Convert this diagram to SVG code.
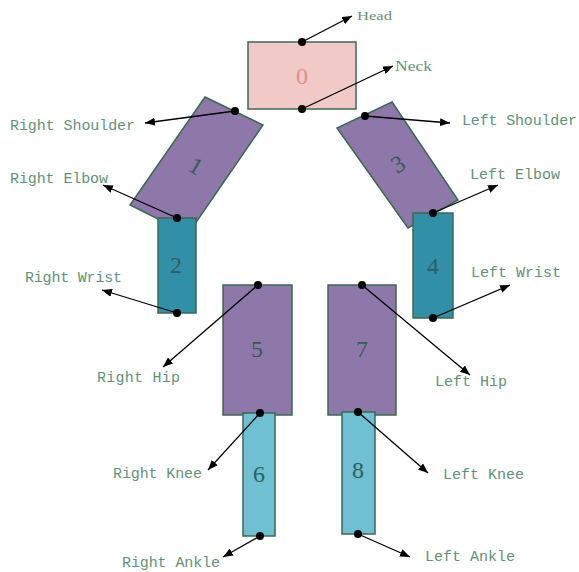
<svg xmlns="http://www.w3.org/2000/svg" width="579" height="572" viewBox="0 0 579 572">
<defs>
<marker id="ah" viewBox="0 0 10 8" refX="10" refY="4" markerWidth="10" markerHeight="8" markerUnits="userSpaceOnUse" orient="auto">
<path d="M0,0 L10,4 L0,8 Z" fill="#000"/>
</marker>
<style>
.seg{stroke:#3a6a4e;stroke-width:1.5}
.pink{fill:#f1c9c7}
.purple{fill:#8e77a9}
.teal{fill:#3190a8}
.cyan{fill:#6fc0d3}
.num{font-family:"Liberation Serif",serif;font-size:24px;fill:#2f5e5a;text-anchor:middle}
.lbl{font-family:"Liberation Mono",monospace;font-size:15px;fill:#62917a}
.lbs{font-family:"Liberation Serif",serif;font-size:14px;fill:#62917a}
.con line{stroke:#000;stroke-width:1.3;marker-end:url(#ah)}
.con circle{fill:#000}
</style>
</defs>
<rect width="579" height="572" fill="#fff"/>
<g id="node0"><rect class="seg pink" x="248" y="42" width="108" height="67"/><text class="num" x="302" y="84" style="fill:#e38c8a">0</text></g>
<g id="node1"><polygon class="seg purple" points="205,97 263,125 188,234 130,205"/><text class="num" x="196" y="174" transform="rotate(30 196 166)">1</text></g>
<g id="node3"><polygon class="seg purple" points="392,102 458,200 408,228 337,128"/><text class="num" x="398" y="172" transform="rotate(-30 398 164)">3</text></g>
<g id="node2"><rect class="seg teal" x="158" y="218" width="38" height="95"/><text class="num" x="176" y="273">2</text></g>
<g id="node4"><rect class="seg teal" x="413" y="213" width="40" height="105"/><text class="num" x="433" y="274">4</text></g>
<g id="node5"><rect class="seg purple" x="223" y="285" width="69" height="130"/><text class="num" x="257" y="357">5</text></g>
<g id="node7"><rect class="seg purple" x="328" y="285" width="68" height="130"/><text class="num" x="362" y="357">7</text></g>
<g id="node6"><rect class="seg cyan" x="243" y="413" width="32" height="123"/><text class="num" x="259" y="482">6</text></g>
<g id="node8"><rect class="seg cyan" x="342" y="412" width="33" height="122"/><text class="num" x="358" y="478">8</text></g>
<g id="connectors" class="con">
<line x1="302" y1="42" x2="352" y2="16"/><circle cx="302" cy="42" r="4"/>
<line x1="302" y1="109" x2="393" y2="66"/><circle cx="302" cy="109" r="4"/>
<line x1="235" y1="111" x2="145" y2="123"/><circle cx="235" cy="111" r="4"/>
<line x1="177" y1="218" x2="103" y2="185"/><circle cx="177" cy="218" r="4"/>
<line x1="177" y1="313" x2="102" y2="290"/><circle cx="177" cy="313" r="4"/>
<line x1="365" y1="116" x2="450" y2="123"/><circle cx="365" cy="116" r="4"/>
<line x1="433" y1="213" x2="498" y2="185"/><circle cx="433" cy="213" r="4"/>
<line x1="433" y1="318" x2="510" y2="285"/><circle cx="433" cy="318" r="4"/>
<line x1="258" y1="285" x2="163" y2="367"/><circle cx="258" cy="285" r="4"/>
<line x1="362" y1="285" x2="470" y2="375"/><circle cx="362" cy="285" r="4"/>
<line x1="260" y1="413" x2="208" y2="470"/><circle cx="260" cy="413" r="4"/>
<line x1="358" y1="412" x2="428" y2="473"/><circle cx="358" cy="412" r="4"/>
<line x1="260" y1="536" x2="223" y2="557"/><circle cx="260" cy="536" r="4"/>
<line x1="358" y1="534" x2="410" y2="557"/><circle cx="358" cy="534" r="4"/>
</g>
<g id="labels">
<text class="lbs" x="357" y="20" textLength="35" lengthAdjust="spacingAndGlyphs" style="font-size:13px">Head</text>
<text class="lbs" x="395" y="71" textLength="37" lengthAdjust="spacingAndGlyphs">Neck</text>
<text class="lbl" x="10" y="130" textLength="125" lengthAdjust="spacing">Right Shoulder</text>
<text class="lbl" x="10" y="183" textLength="98" lengthAdjust="spacing">Right Elbow</text>
<text class="lbl" x="25" y="282" textLength="97" lengthAdjust="spacing">Right Wrist</text>
<text class="lbl" x="462" y="125" textLength="115" lengthAdjust="spacing">Left Shoulder</text>
<text class="lbl" x="470" y="179" textLength="90" lengthAdjust="spacing">Left Elbow</text>
<text class="lbl" x="471" y="277" textLength="90" lengthAdjust="spacing">Left Wrist</text>
<text class="lbl" x="97" y="382" textLength="83" lengthAdjust="spacing">Right Hip</text>
<text class="lbl" x="435" y="386" textLength="72" lengthAdjust="spacing">Left Hip</text>
<text class="lbl" x="113" y="478" textLength="89" lengthAdjust="spacing">Right Knee</text>
<text class="lbl" x="443" y="479" textLength="81" lengthAdjust="spacing">Left Knee</text>
<text class="lbl" x="122" y="567" textLength="98" lengthAdjust="spacing">Right Ankle</text>
<text class="lbl" x="425" y="561" textLength="90" lengthAdjust="spacing">Left Ankle</text>
</g>
</svg>
